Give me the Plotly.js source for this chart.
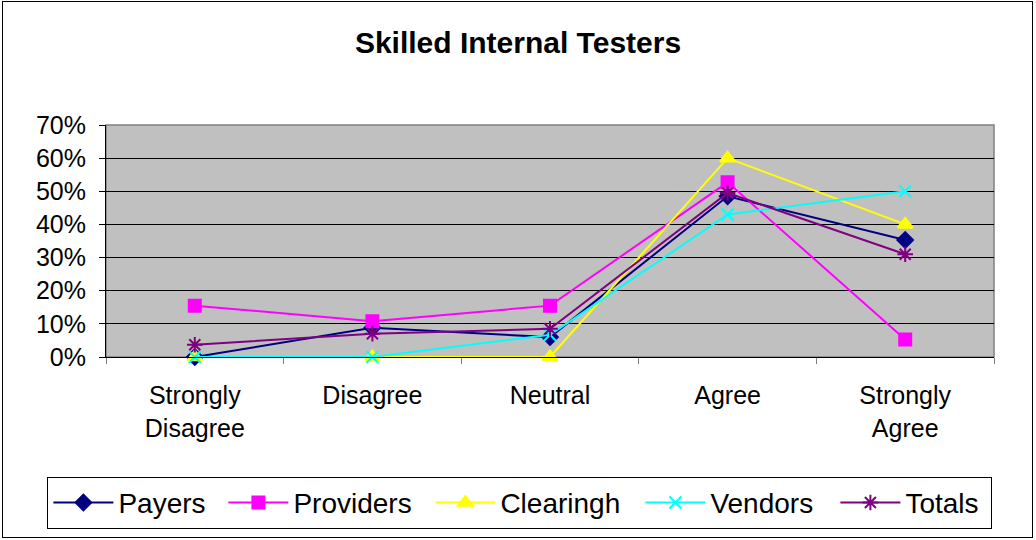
<!DOCTYPE html>
<html>
<head>
<meta charset="utf-8">
<script src="https://cdn.plot.ly/plotly-3.0.1.min.js"></script>
<style>
html,body{margin:0;padding:0;background:#fff;}
#frame{position:absolute;left:2px;top:1px;width:1029px;height:535px;border:1.5px solid #000;}
#chart{position:absolute;left:0;top:0;width:1036px;height:540px;}
</style>
</head>
<body>
<div id="chart"></div>
<div id="frame"></div>
<script>
const categories = ["Strongly<br>Disagree", "Disagree", "Neutral", "Agree", "Strongly<br>Agree"];
const payers     = [0.000, 0.088, 0.060, 0.485, 0.353];
const providers  = [0.155, 0.108, 0.155, 0.527, 0.053];
const clearingh  = [0.000, 0.000, 0.000, 0.600, 0.400];
const vendors    = [0.000, 0.000, 0.067, 0.430, 0.500];
const totals     = [0.037, 0.070, 0.085, 0.495, 0.310];
const yTicks     = [0, 0.1, 0.2, 0.3, 0.4, 0.5, 0.6, 0.7];

const series = [
  {name: "Payers", y: payers, color: "#000080", symbol: "diamond", size: 12, lw: 100},
  {name: "Providers", y: providers, color: "#FF00FF", symbol: "square", size: 12, lw: 132},
  {name: "Clearingh", y: clearingh, color: "#FFFF00", symbol: "triangle-up", size: 13, lw: 135},
  {name: "Vendors", y: vendors, color: "#00FFFF", symbol: "x-thin-open", size: 12, lw: 120},
  {name: "Totals", y: totals, color: "#800080", symbol: "asterisk-open", size: 13, lw: 81}
];

const traces = series.map(s => ({
  type: "scatter",
  mode: "lines+markers",
  name: s.name,
  x: categories,
  y: s.y,
  cliponaxis: false,
  legendwidth: s.lw,
  line: {color: s.color, width: 2},
  marker: {symbol: s.symbol, size: s.size, color: s.color, line: {color: s.color, width: 2}}
}));

const layout = {
  width: 1036, height: 540,
  margin: {l: 106, r: 42, t: 125, b: 182},
  paper_bgcolor: "#ffffff",
  plot_bgcolor: "#C0C0C0",
  font: {family: "Liberation Sans, Arial, sans-serif", color: "#000", size: 25},
  title: {text: "<b>Skilled Internal Testers</b>", x: 0.5, xanchor: "center", y: 0.922, yanchor: "middle",
          font: {size: 30, family: "Liberation Sans, Arial, sans-serif", color: "#000"}},
  xaxis: {
    type: "category",
    range: [-0.5, 4.5],
    tickson: "boundaries",
    ticks: "outside", ticklen: 6, tickcolor: "#808080",
    showline: true, linecolor: "#000", linewidth: 1,
    showgrid: false, zeroline: false,
    ticklabelstandoff: 16,
    tickfont: {size: 25}
  },
  yaxis: {
    range: [0, 0.7],
    tickvals: yTicks,
    tickformat: ".0%",
    ticks: "outside", ticklen: 6, tickcolor: "#000",
    showline: true, linecolor: "#000", linewidth: 1,
    showgrid: true, gridcolor: "#000", gridwidth: 1,
    zeroline: false,
    ticklabelstandoff: 8,
    tickfont: {size: 25}
  },
  shapes: [
    {type: "rect", xref: "paper", yref: "paper", x0: 0, x1: 1, y0: 0, y1: 1,
     line: {color: "#808080", width: 1.5}, fillcolor: "rgba(0,0,0,0)", layer: "below"}
  ],
  showlegend: true,
  legend: {
    orientation: "h",
    x: -0.066, xanchor: "left",
    y: -0.51, yanchor: "top",
    bordercolor: "#000", borderwidth: 1,
    bgcolor: "#fff",
    font: {size: 28},
    itemwidth: 60,
    traceorder: "normal"
  }
};

Plotly.newPlot("chart", traces, layout, {displayModeBar: false, staticPlot: true});
</script>
</body>
</html>
